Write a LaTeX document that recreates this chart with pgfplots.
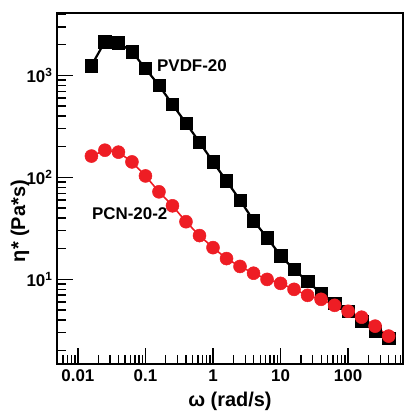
\documentclass[border=0pt]{standalone}
\usepackage{fontspec}
\setmainfont{Liberation Sans}
\usepackage{pgfplots}
\pgfplotsset{compat=1.18}
\definecolor{myred}{HTML}{EE1D24}
\begin{document}
\begin{tikzpicture}
\useasboundingbox (-57bp,-47bp) rectangle (348bp,364bp);
\begin{axis}[
  at={(0,0)}, anchor=south west,
  scale only axis, width=346bp, height=351bp,
  xmode=log, ymode=log,
  xmin=0.0049, xmax=650, ymin=1.48, ymax=4100,
  axis line style={line width=1.9pt},
  every tick/.style={line width=1.4pt, black},
  tick align=inside, tick pos=left,
  major tick length=16bp, minor tick length=9bp,
  xtick={0.01,0.1,1,10,100}, xticklabels={0.01,0.1,1,10,100},
  minor xtick={0.005,0.006,0.007,0.008,0.009,0.02,0.03,0.04,0.05,0.06,0.07,0.08,0.09,0.2,0.3,0.4,0.5,0.6,0.7,0.8,0.9,2,3,4,5,6,7,8,9,20,30,40,50,60,70,80,90,200,300,400,500,600},
  ytick={10,100,1000},
  yticklabels={10\textsuperscript{1},10\textsuperscript{2},10\textsuperscript{3}},
  minor ytick={2,3,4,5,6,7,8,9,20,30,40,50,60,70,80,90,200,300,400,500,600,700,800,900,2000,3000,4000},
  tick label style={font=\bfseries\fontsize{17}{19}\selectfont},
  xticklabel style={yshift=-2bp},
  yticklabel style={xshift=-1bp},
  xlabel={ω (rad/s)}, ylabel={η* (Pa*s)},
  label style={font=\bfseries\fontsize{20}{22}\selectfont},
  xlabel style={at={(axis description cs:0.5,0)}, anchor=center, yshift=-37bp},
  ylabel style={at={(axis description cs:-0.107,0.407)}, anchor=center},
  clip=false,
]
\addplot[black, line width=2.2pt, mark=square*, mark size=6.2bp, mark options={line width=0.5pt}] coordinates {
(0.01585,1250) (0.02512,2150) (0.03981,2100) (0.0631,1710) (0.1,1170)
(0.1585,798) (0.2512,521) (0.3981,340) (0.631,222) (1,142)
(1.585,92.4) (2.512,60) (3.981,37.7) (6.31,25.7) (10,17.1)
(15.85,12.5) (25.12,9.55) (39.81,7.3) (63.1,5.83) (100,4.87)
(158.5,3.89) (251.2,3.11) (398.1,2.65)
};
\addplot[myred, line width=1.6pt, mark=*, mark size=6.5bp, mark options={line width=0.5pt}] coordinates {
(0.01585,162) (0.02512,185) (0.03981,177) (0.0631,142) (0.1,103.5)
(0.1585,72.3) (0.2512,52.7) (0.3981,36.8) (0.631,26.9) (1,20.5)
(1.585,16.0) (2.512,13.4) (3.981,11.5) (6.31,10.0) (10,9.14)
(15.85,7.99) (25.12,6.98) (39.81,6.38) (63.1,5.57) (100,4.87)
(158.5,4.26) (251.2,3.48) (398.1,2.78)
};
\node[anchor=west, inner sep=0pt, font=\bfseries\fontsize{17}{19}\selectfont] at (axis cs:0.148,1250) {PVDF-20};
\node[anchor=west, inner sep=0pt, font=\bfseries\fontsize{17}{19}\selectfont] at (axis cs:0.0161,44) {PCN-20-2};
\end{axis}
\end{tikzpicture}
\end{document}
